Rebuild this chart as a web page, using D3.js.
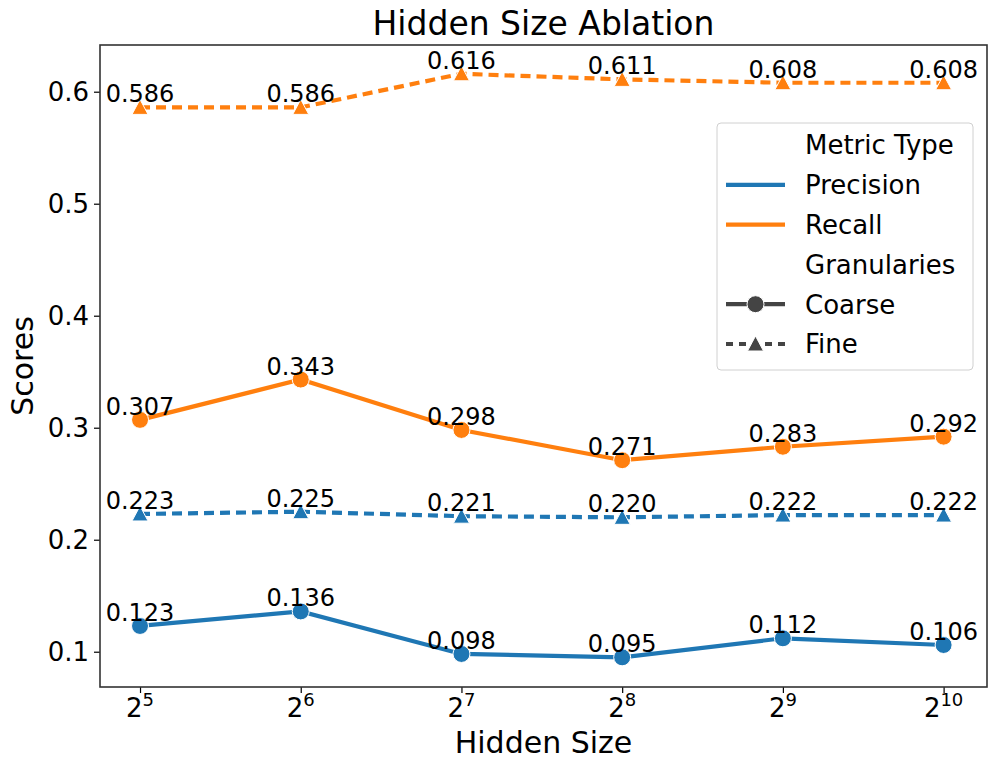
<!DOCTYPE html>
<html>
<head>
<meta charset="utf-8">
<script src="https://cdn.jsdelivr.net/npm/d3@7"></script>
<style>
  body { margin: 0; background: #fff; }
  text { font-family: "DejaVu Sans", sans-serif; }
</style>
</head>
<body>
<div id="chart"></div>
<script>
// data
var exponents = [5, 6, 7, 8, 9, 10];
var precisionCoarse = [0.123, 0.136, 0.098, 0.095, 0.112, 0.106];
var precisionFine = [0.223, 0.225, 0.221, 0.220, 0.222, 0.222];
var recallCoarse = [0.307, 0.343, 0.298, 0.271, 0.283, 0.292];
var recallFine = [0.586, 0.586, 0.616, 0.611, 0.608, 0.608];
var yTicks = [0.1, 0.2, 0.3, 0.4, 0.5, 0.6];
var metricNames = ["Precision", "Recall"];
var granNames = ["Coarse", "Fine"];

var colors = { Precision: "#1f77b4", Recall: "#ff7f0e" };

var series = [
    { metric: "Precision", gran: "Coarse", values: precisionCoarse },
    { metric: "Recall", gran: "Coarse", values: recallCoarse },
    { metric: "Precision", gran: "Fine", values: precisionFine },
    { metric: "Recall", gran: "Fine", values: recallFine }
];

var W = 997, H = 770;
var margin = { top: 45, right: 10, bottom: 83, left: 100 },
    width = W - margin.left - margin.right,
    height = H - margin.top - margin.bottom;

var svg = d3.select("#chart")
    .append("svg")
    .attr("width", W)
    .attr("height", H);

var g = svg.append("g")
    .attr("transform", "translate(" + margin.left + "," + margin.top + ")");

// scales
var x = d3.scaleLog()
    .base(2)
    .domain([Math.pow(2, 4.751), Math.pow(2, 10.27)])
    .range([0, width]);

var y = d3.scaleLinear()
    .domain([0.0685, 0.6417])
    .range([height, 0]);

// y axis
var yAxis = g.append("g")
    .call(d3.axisLeft(y).tickValues(yTicks).tickSize(6).tickPadding(5).tickFormat(d3.format(".1f")));
yAxis.select(".domain").remove();
yAxis.selectAll("line").attr("stroke", "#000").attr("stroke-width", 1.2);
yAxis.selectAll("text").attr("font-size", 26).attr("fill", "#000")
    .style("font-family", "DejaVu Sans");

// x axis with power-of-two labels
var xAxis = g.append("g")
    .attr("transform", "translate(0," + height + ")")
    .call(d3.axisBottom(x).tickValues(exponents.map(e => Math.pow(2, e))).tickSize(6).tickFormat(""));
xAxis.select(".domain").remove();
xAxis.selectAll("line").attr("stroke", "#000").attr("stroke-width", 1.2);

exponents.forEach(function (e) {
    var t = g.append("text")
        .attr("x", x(Math.pow(2, e)))
        .attr("y", height + 30)
        .attr("text-anchor", "middle")
        .attr("font-size", 26);
    t.append("tspan").text("2");
    t.append("tspan")
        .attr("font-size", 18)
        .attr("dy", -11)
        .text(e);
});

// spines
g.append("rect")
    .attr("width", width)
    .attr("height", height)
    .attr("fill", "none")
    .attr("stroke", "#333")
    .attr("stroke-width", 1.6);

// lines
var line = d3.line()
    .x(function (d, i) { return x(Math.pow(2, exponents[i])); })
    .y(function (d) { return y(d); });

var triangle = "M0,-8L8,7L-8,7Z";

series.forEach(function (s) {
    var col = colors[s.metric];
    g.append("path")
        .datum(s.values)
        .attr("class", "line")
        .attr("d", line)
        .attr("fill", "none")
        .attr("stroke", col)
        .attr("stroke-width", 4.2)
        .attr("stroke-dasharray", s.gran === "Fine" ? "10,6" : null);

    var pts = g.selectAll(".pt-" + s.metric + s.gran)
        .data(s.values)
        .enter();

    if (s.gran === "Coarse") {
        pts.append("circle")
            .attr("cx", function (d, i) { return x(Math.pow(2, exponents[i])); })
            .attr("cy", function (d) { return y(d); })
            .attr("r", 8.5)
            .attr("fill", col)
            .attr("stroke", "#fff")
            .attr("stroke-width", 1);
    } else {
        pts.append("path")
            .attr("d", triangle)
            .attr("transform", function (d, i) {
                return "translate(" + x(Math.pow(2, exponents[i])) + "," + y(d) + ")";
            })
            .attr("fill", col)
            .attr("stroke", "#fff")
            .attr("stroke-width", 1);
    }
});

// value labels
series.forEach(function (s) {
    g.selectAll(".lbl-" + s.metric + s.gran)
        .data(s.values)
        .enter()
        .append("text")
        .attr("x", function (d, i) { return x(Math.pow(2, exponents[i])); })
        .attr("y", function (d) { return y(d) - 5; })
        .attr("text-anchor", "middle")
        .attr("font-size", 24)
        .attr("fill", "#000")
        .text(function (d) { return d.toFixed(3); });
});

// title and axis labels
svg.append("text")
    .attr("x", margin.left + width / 2)
    .attr("y", 35)
    .attr("text-anchor", "middle")
    .attr("font-size", 33)
    .text("Hidden Size Ablation");

svg.append("text")
    .attr("x", margin.left + width / 2)
    .attr("y", 753)
    .attr("text-anchor", "middle")
    .attr("font-size", 30)
    .text("Hidden Size");

svg.append("text")
    .attr("transform", "rotate(-90)")
    .attr("x", -(margin.top + height / 2))
    .attr("y", 33)
    .attr("text-anchor", "middle")
    .attr("font-size", 30)
    .text("Scores");

// legend
var leg = svg.append("g").attr("transform", "translate(717,123)");
leg.append("rect")
    .attr("width", 256)
    .attr("height", 247)
    .attr("rx", 4)
    .attr("fill", "#fff")
    .attr("fill-opacity", 0.8)
    .attr("stroke", "#d0d0d0")
    .attr("stroke-width", 1);

var rows = [{ label: "Metric Type", kind: "title" }]
    .concat(metricNames.map(m => ({ label: m, kind: "metric" })))
    .concat([{ label: "Granularies", kind: "title" }])
    .concat(granNames.map(n => ({ label: n, kind: "gran" })));

rows.forEach(function (r, i) {
    var cy = 22 + i * 39.8;
    var handle = leg.append("g").attr("transform", "translate(0," + cy + ")");
    if (r.kind === "metric") {
        handle.append("line")
            .attr("x1", 9).attr("x2", 68)
            .attr("stroke", colors[r.label])
            .attr("stroke-width", 4.2);
    } else if (r.kind === "gran") {
        handle.append("line")
            .attr("x1", 9).attr("x2", 68)
            .attr("stroke", "#444")
            .attr("stroke-width", 4.2)
            .attr("stroke-dasharray", r.label === "Fine" ? "7,6" : null);
        if (r.label === "Coarse") {
            handle.append("circle")
                .attr("cx", 38.5).attr("r", 8.5)
                .attr("fill", "#444").attr("stroke", "#fff").attr("stroke-width", 1);
        } else {
            handle.append("path")
                .attr("d", triangle)
                .attr("transform", "translate(38.5,0)")
                .attr("fill", "#444").attr("stroke", "#fff").attr("stroke-width", 1);
        }
    }
    leg.append("text")
        .attr("x", 88)
        .attr("y", cy)
        .attr("dy", "0.36em")
        .attr("font-size", 26)
        .text(r.label);
});
</script>
</body>
</html>
